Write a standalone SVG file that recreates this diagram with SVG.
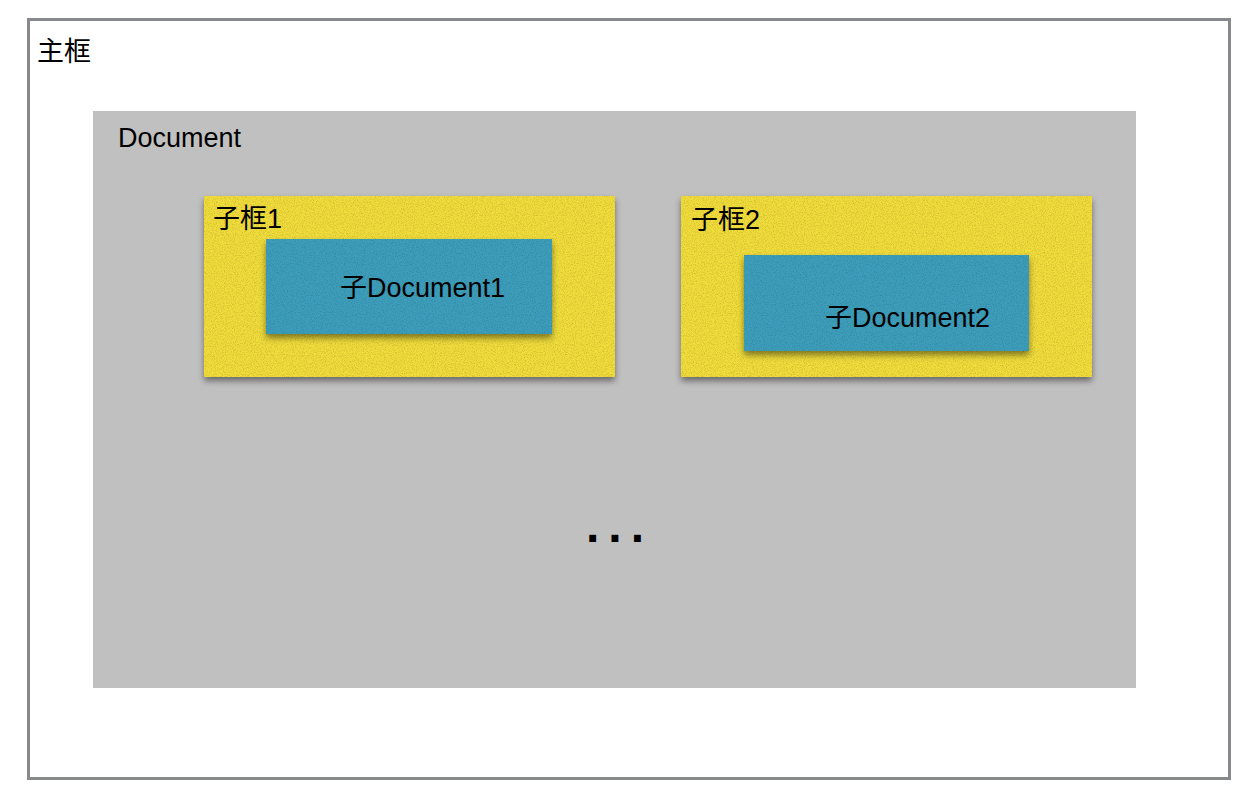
<svg xmlns="http://www.w3.org/2000/svg" width="1260" height="802" viewBox="0 0 1260 802">
<defs>
<filter id="shadow" x="-10%" y="-10%" width="120%" height="130%">
<feDropShadow dx="0" dy="4" stdDeviation="3" flood-color="#000" flood-opacity="0.45"/>
</filter>
<filter id="grain" x="0" y="0" width="100%" height="100%">
<feTurbulence type="fractalNoise" baseFrequency="0.9" numOctaves="3" seed="3" result="n"/>
<feColorMatrix in="n" type="matrix" values="0 0 0 0 0  0 0 0 0 0  0 0 0 0 0  0 0 0 -2.2 1.25" result="a"/>
<feComposite in="a" in2="SourceGraphic" operator="in"/>
</filter>
<style>
.t{font-family:"Liberation Sans","Noto Sans CJK SC",sans-serif;font-size:27px;fill:#000}
.yel{fill:#f0dc3a}
.blu{fill:#3d9ebb}
.grn{fill:#000;opacity:0.14}
</style>
</defs>
<rect width="1260" height="802" fill="#fff"/>
<g id="main-frame">
<rect x="28.5" y="19.5" width="1201" height="759" fill="#fff" stroke="#88898c" stroke-width="3"/>
<text class="t" x="37" y="61">主框</text>
</g>
<g id="document">
<rect x="93" y="111" width="1043" height="577" fill="#c0c0c0"/>
<text class="t" x="118" y="147">Document</text>
</g>
<g id="subframe1">
<rect class="yel" x="204" y="196" width="411" height="181" filter="url(#shadow)"/>
<rect class="grn" x="204" y="196" width="411" height="181" filter="url(#grain)"/>
<text class="t" x="213" y="228">子框1</text>
</g>
<g id="subdoc1">
<rect class="blu" x="266" y="239" width="286" height="95" filter="url(#shadow)"/>
<rect class="grn" x="266" y="239" width="286" height="95" filter="url(#grain)"/>
<text class="t" x="340" y="297">子Document1</text>
</g>
<g id="subframe2">
<rect class="yel" x="681" y="196" width="411" height="181" filter="url(#shadow)"/>
<rect class="grn" x="681" y="196" width="411" height="181" filter="url(#grain)"/>
<text class="t" x="691" y="229">子框2</text>
</g>
<g id="subdoc2">
<rect class="blu" x="744" y="255" width="285" height="96" filter="url(#shadow)"/>
<rect class="grn" x="744" y="255" width="285" height="96" filter="url(#grain)"/>
<text class="t" x="825" y="327">子Document2</text>
</g>
<g id="ellipsis">
<text x="586" y="542" style="font-family:'Liberation Sans',sans-serif;font-size:48px;font-weight:bold;letter-spacing:9px">...</text>
</g>
<g id="connectors"></g>
</svg>
